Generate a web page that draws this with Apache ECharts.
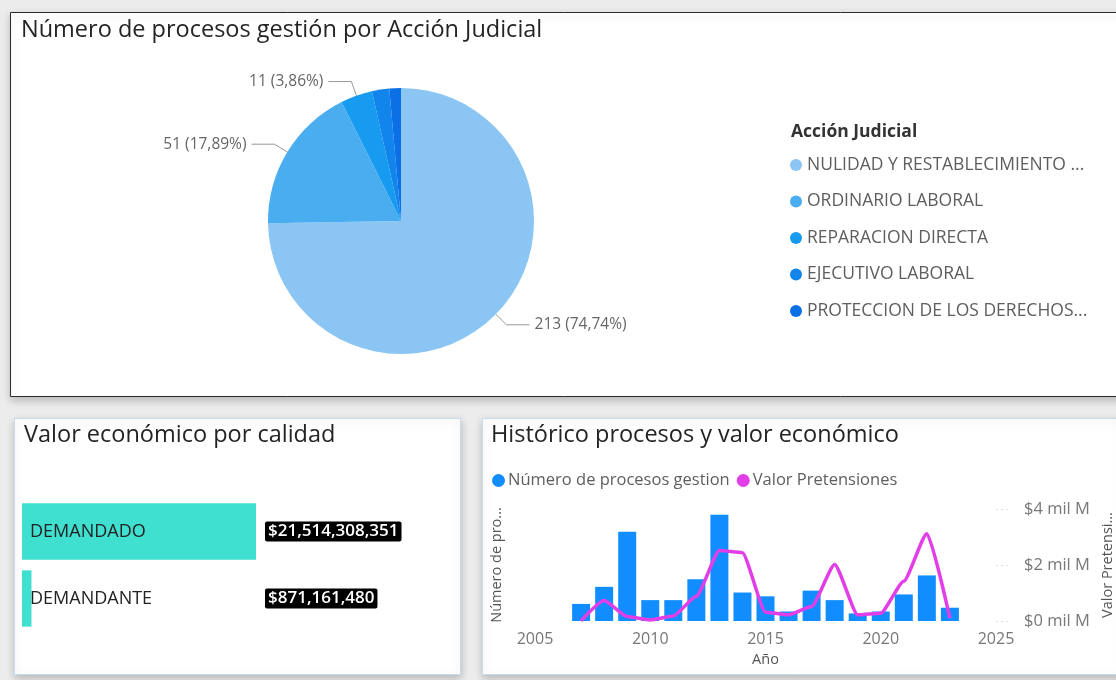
<!DOCTYPE html>
<html lang="es">
<head>
  <meta charset="UTF-8">
  <title>Procesos gestión</title>
  <style>
    html, body { margin: 0; padding: 0; background: #ececec; }
    #main { width: 1116px; height: 680px; }
  </style>
</head>
<body>
  <div id="main"></div>
  <script src="https://cdn.jsdelivr.net/npm/echarts@6/dist/echarts.min.js"></script>
  <script>
    // pie: procesos por acción judicial
    var acciones = ['NULIDAD Y RESTABLECIMIENTO DEL DERECHO', 'ORDINARIO LABORAL', 'REPARACION DIRECTA',
      'EJECUTIVO LABORAL', 'PROTECCION DE LOS DERECHOS E INTERESES COLECTIVOS'];
    // as the legend shows them (cut by Power BI)
    var accionesCorto = ['NULIDAD Y RESTABLECIMIENTO ...', 'ORDINARIO LABORAL', 'REPARACION DIRECTA',
      'EJECUTIVO LABORAL', 'PROTECCION DE LOS DERECHOS...'];
    var procesosAccion = [213, 51, 11, 6, 4];
    var coloresAccion = ['#8ac5f3', '#4aadf0', '#169bf0', '#1285ec', '#0b6fe6'];

    // barras: valor económico por calidad
    var calidades = ['DEMANDADO', 'DEMANDANTE'];
    var valorCalidad = [21514308351, 871161480];

    // combo: histórico por año
    var anios = [2007, 2008, 2009, 2010, 2011, 2012, 2013, 2014, 2015, 2016, 2017, 2018, 2019, 2020, 2021, 2022, 2023];
    var procesosAnio = [9, 18, 47, 11, 11, 22, 56, 15, 13, 5, 16, 11, 4, 5, 14, 24, 7];
    var pretensionesAnio = [0.01e9, 0.73e9, 0.16e9, 0.04e9, 0.18e9, 0.88e9, 2.52e9, 2.44e9, 0.31e9, 0.22e9,
      0.52e9, 2.02e9, 0.22e9, 0.28e9, 1.42e9, 3.12e9, 0.1e9];
    var ticksAnio = [2005, 2025, 5];      // min, max, interval
    var ticksValor = [0, 4e9, 2e9];

    var myChart = echarts.init(document.getElementById('main'));
    var txt = 'Open Sans';

    var pieData = acciones.map(function (a, i) {
      return {
        name: a,
        value: procesosAccion[i],
        itemStyle: { color: coloresAccion[i] },
        label: { show: i < 3 },
        labelLine: { show: i < 3 }
      };
    });

    function fmtMoney(v) {
      return '$' + v.toLocaleString('en-US');
    }

    var panel = function (x, y, w, h, stroke) {
      return {
        type: 'rect', z: -10,
        shape: { x: x, y: y, width: w, height: h },
        style: {
          fill: '#fff', stroke: stroke, lineWidth: 1,
          shadowBlur: 8, shadowColor: 'rgba(0,0,0,0.22)', shadowOffsetY: 3
        }
      };
    };

    var titleStyle = { fontFamily: txt, fontSize: 23.5, fontWeight: 'normal', color: '#252423' };

    var option = {
      backgroundColor: '#ececec',
      animation: false,
      graphic: [
        panel(10.5, 12.5, 1120, 384, '#2b2b2b'),
        panel(14.5, 418.5, 446, 256, '#c6dcee'),
        panel(482.5, 418.5, 640, 256, '#c6dcee')
      ],
      title: [
        { text: 'Número de procesos gestión por Acción Judicial', left: 16, top: 13, textStyle: titleStyle },
        { text: 'Acción Judicial', left: 786, top: 118,
          textStyle: { fontFamily: txt, fontSize: 17.5, fontWeight: 'bold', color: '#333' } },
        { text: 'Valor económico por calidad', left: 19, top: 418, textStyle: titleStyle },
        { text: 'Histórico procesos y valor económico', left: 486, top: 418, textStyle: titleStyle }
      ],
      legend: [{
        orient: 'vertical', left: 785, top: 151, itemGap: 18.5,
        icon: 'circle', itemWidth: 12, itemHeight: 12,
        data: acciones,
        formatter: function (name) { return accionesCorto[acciones.indexOf(name)]; },
        textStyle: { fontFamily: txt, fontSize: 17.5, color: '#605e5c' }
      }, {
        orient: 'horizontal', left: 487, top: 467, itemGap: 7,
        icon: 'circle', itemWidth: 13, itemHeight: 13,
        data: ['Número de procesos gestion', 'Valor Pretensiones'],
        textStyle: { fontFamily: txt, fontSize: 16.5, color: '#605e5c', padding: [0, 0, 0, -2] }
      }],
      grid: [
        { left: 22, right: 860, top: 498, height: 134 },
        { left: 535, right: 119, top: 509, bottom: 59 }
      ],
      xAxis: [{
        gridIndex: 0, type: 'value', min: 0, max: 'dataMax', show: false
      }, {
        gridIndex: 1, type: 'value', min: ticksAnio[0], max: ticksAnio[1], interval: ticksAnio[2],
        splitLine: { show: false }, axisLine: { show: false }, axisTick: { show: false },
        axisLabel: { margin: 10, fontFamily: txt, fontSize: 16, color: '#777',
          formatter: function (v) { return String(v); } },
        name: 'Año', nameLocation: 'middle', nameGap: 31,
        nameTextStyle: { fontFamily: txt, fontSize: 14.5, color: '#555' }
      }],
      yAxis: [{
        gridIndex: 0, type: 'category', data: calidades, inverse: true,
        axisLine: { show: false }, axisTick: { show: false }, axisLabel: { show: false }
      }, {
        gridIndex: 0, type: 'category', position: 'right', inverse: true,
        data: valorCalidad.map(fmtMoney),
        axisLine: { show: false }, axisTick: { show: false },
        axisLabel: {
          margin: 9, align: 'left', fontFamily: txt, fontSize: 17, fontWeight: 600, color: '#fff',
          backgroundColor: '#000', padding: [2, 3, 1, 3], borderRadius: 2
        }
      }, {
        gridIndex: 1, type: 'value', min: 0, max: 59,
        splitLine: { show: false }, axisLabel: { show: false },
        axisLine: { show: false }, axisTick: { show: false },
        name: 'Número de procesos gestion', nameLocation: 'middle', nameGap: 31, nameRotate: 90,
        nameTruncate: { maxWidth: 120, ellipsis: '...' },
        nameTextStyle: { fontFamily: txt, fontSize: 14.5, color: '#555' }
      }, {
        gridIndex: 1, type: 'value', position: 'right',
        min: ticksValor[0], max: ticksValor[1], interval: ticksValor[2],
        splitLine: { show: false }, axisLine: { show: false },
        axisTick: { show: true, length: 12, lineStyle: { color: '#ddd', type: [2, 3] } },
        axisLabel: {
          margin: 28, fontFamily: txt, fontSize: 16.5, color: '#777',
          formatter: function (v) { return '$' + (v / 1e9) + ' mil M'; }
        },
        name: 'Valor Pretensiones', nameLocation: 'middle', nameGap: 104, nameRotate: 90,
        nameTruncate: { maxWidth: 112, ellipsis: '...' },
        nameTextStyle: { fontFamily: txt, fontSize: 14.5, color: '#555' }
      }],
      series: [{
        type: 'pie',
        center: [401, 221], radius: 133,
        startAngle: 90, clockwise: true,
        data: pieData,
        label: {
          fontFamily: txt, fontSize: 15.5, color: '#666',
          formatter: function (p) {
            return p.value + ' (' + p.percent.toFixed(2).replace('.', ',') + '%)';
          }
        },
        labelLine: { length: 15, length2: 23, lineStyle: { color: '#999' } }
      }, {
        type: 'bar',
        xAxisIndex: 0, yAxisIndex: 0,
        data: valorCalidad,
        barCategoryGap: '16%',
        itemStyle: { color: '#40e0d0' },
        label: {
          show: true, position: 'insideLeft', distance: 8,
          formatter: '{b}', fontFamily: txt, fontSize: 18, color: '#222'
        }
      }, {
        type: 'bar', name: 'Número de procesos gestion',
        xAxisIndex: 1, yAxisIndex: 2,
        data: anios.map(function (a, i) { return [a, procesosAnio[i]]; }),
        barWidth: 18,
        itemStyle: { color: '#118dff' }
      }, {
        type: 'line', name: 'Valor Pretensiones',
        xAxisIndex: 1, yAxisIndex: 3,
        data: anios.map(function (a, i) { return [a, pretensionesAnio[i]]; }),
        smooth: 0.18, smoothMonotone: 'x', symbol: 'none',
        itemStyle: { color: '#e23ee8' },
        lineStyle: { color: '#e23ee8', width: 3.5 }
      }]
    };

    option && myChart.setOption(option);
  </script>
</body>
</html>
